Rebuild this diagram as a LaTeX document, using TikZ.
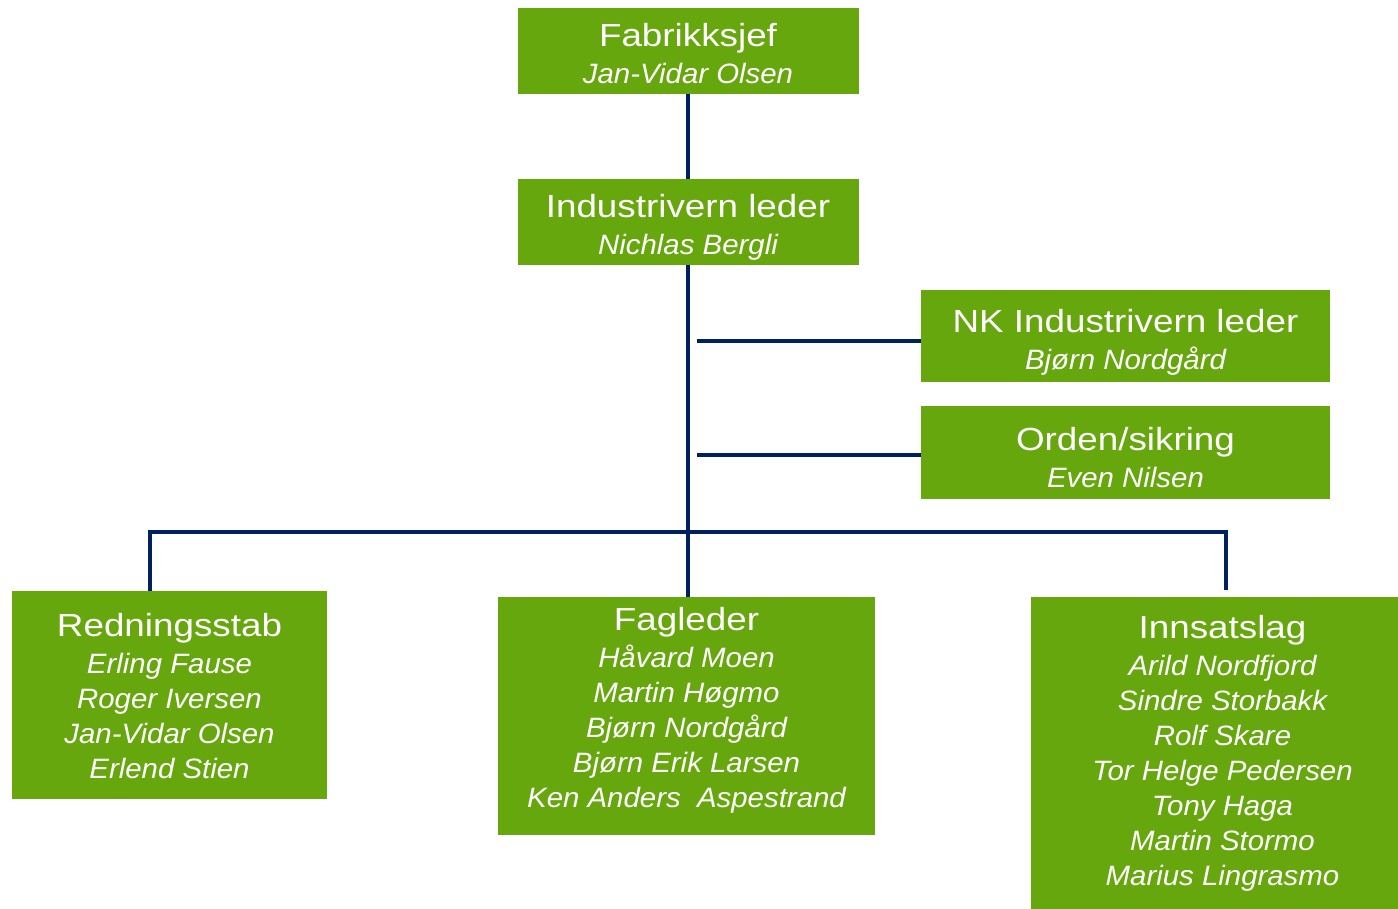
\documentclass[tikz,border=0pt]{standalone}
\usepackage{fontspec}
\setmainfont{Liberation Sans}
\newfontfamily\titlefont[FakeStretch=1.15]{Liberation Sans}
\newfontfamily\namefont[FakeStretch=1.05]{Liberation Sans}
\usetikzlibrary{positioning}
\definecolor{boxgreen}{RGB}{102,167,14}
\definecolor{linenavy}{RGB}{0,32,96}
\newcommand{\unittitle}[1]{{\titlefont\upshape\fontsize{16}{19}\selectfont #1}}

\begin{document}
\begin{tikzpicture}[
		x = 0.5pt, y = -0.5pt,
		unit/.style = {fill=boxgreen, text=white, align=center, inner sep=0pt,
			text depth=0pt, font=\namefont\itshape\fontsize{14}{17.5}\selectfont},
		link/.style = {draw=linenavy, line width=2pt},
		]
		\useasboundingbox (0,0) rectangle (1398,909);
		% boxes
		\node[unit, minimum width=170.5pt, minimum height=43pt, text height=33pt] (FS) at (688,51)
			{\unittitle{Fabrikksjef}\\[1pt] Jan-Vidar Olsen};
		\node[unit, minimum width=170.5pt, minimum height=43pt, text height=32.5pt] (IL) at (688,222)
			{\unittitle{Industrivern leder}\\[1pt] Nichlas Bergli};
		\node[unit, minimum width=204.5pt, minimum height=46pt, text height=34pt] (NK) at (1125.5,336)
			{\unittitle{NK Industrivern leder}\\[1pt] Bjørn Nordgård};
		\node[unit, minimum width=204.5pt, minimum height=46.5pt, text height=34.5pt] (OS) at (1125.5,452.5)
			{\unittitle{Orden/sikring}\\[1pt] Even Nilsen};
		\node[unit, minimum width=157.5pt, minimum height=104pt, text height=83pt] (RS) at (169.5,695)
			{\unittitle{Redningsstab}\\[1pt] Erling Fause\\ Roger Iversen\\ Jan-Vidar Olsen\\ Erlend Stien};
		\node[unit, minimum width=188.5pt, minimum height=119pt, text height=91pt] (FL) at (686.5,716)
			{\unittitle{Fagleder}\\[1pt] Håvard Moen\\ Martin Høgmo\\ Bjørn Nordgård\\ Bjørn Erik Larsen\\ Ken Anders\ \ Aspestrand};
		\node[unit, minimum width=191.5pt, minimum height=157.5pt, text height=130.5pt] (IS) at (1222.5,754.5)
			{\unittitle{Innsatslag}\\[1pt] Arild Nordfjord\\ Sindre Storbakk\\ Rolf Skare\\ Tor Helge Pedersen\\ Tony Haga\\ Martin Stormo\\ Marius Lingrasmo};
		% connectors
		\coordinate (nkb) at (697,341);
		\coordinate (osb) at (697,455);
		\coordinate (busL) at (150,532);
		\coordinate (busR) at (1226,532);
		\draw[link] (FS.south) -- (IL.north);
		\draw[link] (IL.south) -- (IL.south |- FL.north);
		\draw[link] (nkb) -- (nkb -| NK.west);
		\draw[link] (osb) -- (osb -| OS.west);
		\draw[link] (RS.north -| busL) -- (busL) -- (busR) -- ([yshift=3.5pt]IS.north -| busR);
\end{tikzpicture}
\end{document}
